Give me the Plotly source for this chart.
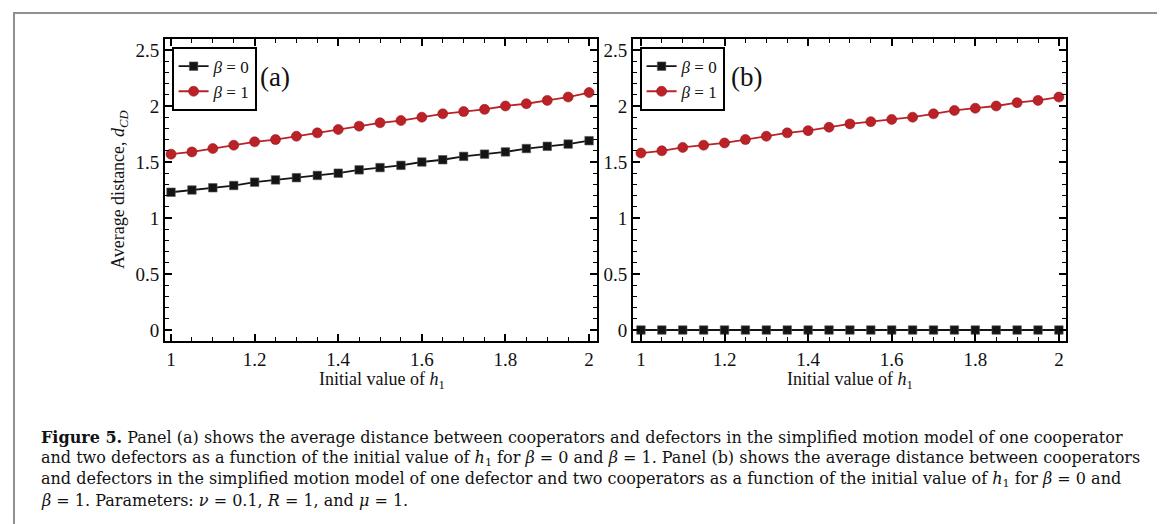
import plotly.graph_objects as go

# ---------------- data ----------------
h1 = [1.00, 1.05, 1.10, 1.15, 1.20, 1.25, 1.30, 1.35, 1.40, 1.45, 1.50,
      1.55, 1.60, 1.65, 1.70, 1.75, 1.80, 1.85, 1.90, 1.95, 2.00]

# Panel (a): one cooperator, two defectors
a_beta0 = [1.23, 1.25, 1.27, 1.29, 1.32, 1.34, 1.36, 1.38, 1.40, 1.43, 1.45,
           1.47, 1.50, 1.52, 1.55, 1.57, 1.59, 1.62, 1.64, 1.66, 1.69]
a_beta1 = [1.57, 1.59, 1.62, 1.65, 1.68, 1.70, 1.73, 1.76, 1.79, 1.82, 1.85,
           1.87, 1.90, 1.93, 1.95, 1.97, 2.00, 2.02, 2.05, 2.08, 2.12]

# Panel (b): one defector, two cooperators
b_beta0 = [0.0, 0.0, 0.0, 0.0, 0.0, 0.0, 0.0, 0.0, 0.0, 0.0, 0.0,
           0.0, 0.0, 0.0, 0.0, 0.0, 0.0, 0.0, 0.0, 0.0, 0.0]
b_beta1 = [1.58, 1.60, 1.63, 1.65, 1.67, 1.70, 1.73, 1.76, 1.78, 1.81, 1.84,
           1.86, 1.88, 1.90, 1.93, 1.96, 1.98, 2.00, 2.03, 2.05, 2.08]

series_names = ["<i>β</i> = 0", "<i>β</i> = 1"]
x_ticks = [1.0, 1.2, 1.4, 1.6, 1.8, 2.0]
x_tick_labels = ["1", "1.2", "1.4", "1.6", "1.8", "2"]
y_ticks = [0, 0.5, 1.0, 1.5, 2.0, 2.5]
y_tick_labels = ["0", "0.5", "1", "1.5", "2", "2.5"]

caption_lines = [
    "<b>Figure 5.</b> Panel (a) shows the average distance between cooperators and defectors in the simplified motion model of one cooperator",
    "and two defectors as a function of the initial value of <i>h</i><sub>1</sub> for <i>β</i> = 0 and <i>β</i> = 1. Panel (b) shows the average distance between cooperators",
    "and defectors in the simplified motion model of one defector and two cooperators as a function of the initial value of <i>h</i><sub>1</sub> for <i>β</i> = 0 and",
    "<i>β</i> = 1. Parameters: <i>ν</i> = 0.1, <i>R</i> = 1, and <i>μ</i> = 1.",
]

# ---------------- layout helpers ----------------
W, H = 1165, 524
FONT = "Liberation Serif"
CAP_FONT = "DejaVu Serif"
RED = "#BA2227"
BLACK = "#141414"


def px(x):
    return x / W


def py(y):
    return 1 - y / H


fig = go.Figure()

panels = [
    ("x", "y", a_beta0, a_beta1, "legend"),
    ("x2", "y2", b_beta0, b_beta1, "legend2"),
]
for xa, ya, s0, s1, lg in panels:
    fig.add_trace(go.Scatter(
        x=h1, y=s0, xaxis=xa, yaxis=ya, mode="lines+markers",
        name=series_names[0], legend=lg,
        line=dict(color=BLACK, width=1.8),
        marker=dict(symbol="square", size=8.5, color=BLACK,
                    line=dict(color="#555555", width=0.6)),
    ))
    fig.add_trace(go.Scatter(
        x=h1, y=s1, xaxis=xa, yaxis=ya, mode="lines+markers",
        name=series_names[1], legend=lg,
        line=dict(color=RED, width=1.8),
        marker=dict(symbol="circle", size=10, color=RED,
                    line=dict(color="#9E1A1F", width=0.6)),
    ))

axis_common = dict(
    showline=True, linecolor="black", linewidth=2, mirror="allticks",
    ticks="inside", ticklen=7, tickwidth=1.5, tickcolor="black",
    showgrid=False, zeroline=False,
    tickfont=dict(family=FONT, size=19, color="#111111"),
)

xdom_a = [px(157), px(589)]
xdom_b = [px(625), px(1058)]
ydom = [py(333), py(31)]
yrange = [-0.098, 2.598]

fig.update_layout(
    xaxis=dict(domain=xdom_a, range=[0.9856, 2.019], anchor="y",
               tickvals=x_ticks, ticktext=x_tick_labels,
               minor=dict(dtick=0.05, ticks="inside", ticklen=4,
                          tickwidth=1.2, tickcolor="black"),
               **axis_common),
    yaxis=dict(domain=ydom, range=yrange, anchor="x",
               tickvals=y_ticks, ticktext=y_tick_labels,
               minor=dict(dtick=0.1, ticks="inside", ticklen=4,
                          tickwidth=1.2, tickcolor="black"),
               **axis_common),
    xaxis2=dict(domain=xdom_b, range=[0.981, 2.017], anchor="y2",
                tickvals=x_ticks, ticktext=x_tick_labels,
                minor=dict(dtick=0.05, ticks="inside", ticklen=4,
                           tickwidth=1.2, tickcolor="black"),
                **axis_common),
    yaxis2=dict(domain=ydom, range=yrange, anchor="x2",
                tickvals=y_ticks, ticktext=y_tick_labels,
                minor=dict(dtick=0.1, ticks="inside", ticklen=4,
                           tickwidth=1.2, tickcolor="black"),
                **axis_common),
)

legend_common = dict(
    xanchor="left", yanchor="top", bgcolor="white",
    bordercolor="black", borderwidth=1.6,
    font=dict(family=FONT, size=17, color="#111111"),
    tracegroupgap=0, itemwidth=30,
)
fig.update_layout(
    legend=dict(x=px(164), y=py(39), **legend_common),
    legend2=dict(x=px(632), y=py(39), **legend_common),
)

annotations = [
    dict(text="(a)", x=px(267), y=py(69), font=dict(family=FONT, size=27, color="#111111")),
    dict(text="(b)", x=px(738), y=py(69), font=dict(family=FONT, size=27, color="#111111")),
    dict(text="Initial value of <i>h</i><sub>1</sub>", x=px(374), y=py(372),
         font=dict(family=FONT, size=18, color="#111111")),
    dict(text="Initial value of <i>h</i><sub>1</sub>", x=px(842), y=py(372),
         font=dict(family=FONT, size=18, color="#111111")),
    dict(text="Average distance, <i>d</i><sub><i>CD</i></sub>", x=px(112), y=py(182),
         textangle=-90, font=dict(family=FONT, size=18, color="#111111")),
]
for a in annotations:
    a.update(xref="paper", yref="paper", showarrow=False,
             xanchor="center", yanchor="middle")
    fig.add_annotation(**a)

cap_y = [429, 450, 471, 492]
for line, yy in zip(caption_lines, cap_y):
    fig.add_annotation(text=line, x=px(31), y=py(yy), xref="paper", yref="paper",
                       showarrow=False, xanchor="left", yanchor="middle",
                       font=dict(family=CAP_FONT, size=16, color="#111111"))

# outer frame of the figure
fig.add_shape(type="rect", xref="paper", yref="paper",
              x0=px(6), x1=px(1160), y0=py(540), y1=py(5),
              line=dict(color="#909090", width=2), fillcolor="rgba(0,0,0,0)")

fig.update_layout(
    width=W, height=H, margin=dict(l=0, r=0, t=0, b=0),
    paper_bgcolor="white", plot_bgcolor="white",
    font=dict(family=FONT, color="#111111"),
)

fig.write_html("out.html")
